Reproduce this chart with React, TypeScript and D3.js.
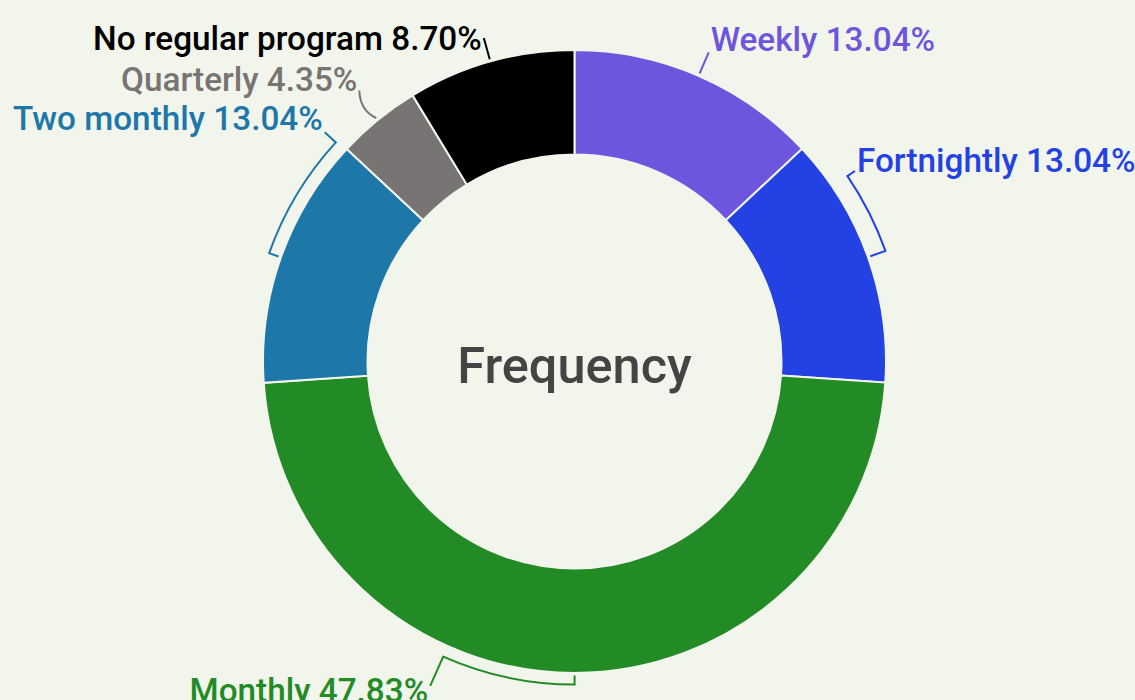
import * as d3 from "d3";
import { useEffect, useRef } from "react";

// Data
const categories = [
  "Weekly",
  "Fortnightly",
  "Monthly",
  "Two monthly",
  "Quarterly",
  "No regular program",
];
const shares = [13.04, 13.04, 47.83, 13.04, 4.35, 8.7];
const colors = ["#6e55dd", "#2442e4", "#228b26", "#1e77a9", "#787473", "#000000"];

// Label layout (degrees relative to slice middle, radii in px)
const bracketSpan = [0, -14.6, 24, 23, 0.7, 0];
const bracketRadius = [0, 330, 323, 324, 0, 0];
const leaderRadius = [337, 339, 355, 339, 346, 336];
const labelDy = [-1, 1, 16, -2, 0, 12];

export default function App() {
  const svgRef = useRef<SVGSVGElement | null>(null);

  useEffect(() => {
    if (!svgRef.current) return;
    const svg = d3.select(svgRef.current);
    svg.selectAll("*").remove();

    const width = 1135;
    const height = 700;
    const cx = 574.5;
    const cy = 361.5;
    const outer = 311.5;
    const inner = 207;
    const tickR = 314;
    const bg = "#f2f5ec";

    svg.attr("width", width).attr("height", height);
    svg.append("rect").attr("width", width).attr("height", height).attr("fill", bg);

    const pie = d3
      .pie<number>()
      .sort(null)
      .value((d) => d);
    const arcs = pie(shares);

    const arc = d3
      .arc<d3.PieArcDatum<number>>()
      .innerRadius(inner)
      .outerRadius(outer);

    const g = svg.append("g").attr("transform", `translate(${cx},${cy})`);

    g.selectAll("path.slice")
      .data(arcs)
      .join("path")
      .attr("class", "slice")
      .attr("d", arc)
      .attr("fill", (_, i) => colors[i])
      .attr("stroke", bg)
      .attr("stroke-width", 2);

    const pt = (r: number, a: number) => [r * Math.sin(a), -r * Math.cos(a)];
    const rad = (deg: number) => (deg * Math.PI) / 180;

    // Leaders and brackets
    arcs.forEach((d, i) => {
      const mid = (d.startAngle + d.endAngle) / 2;
      const end = mid + rad(bracketSpan[i]);
      let path = "";
      if (bracketRadius[i] > 0) {
        const rb = bracketRadius[i];
        const [x0, y0] = pt(tickR, mid);
        const [x1, y1] = pt(rb, mid);
        const [x2, y2] = pt(rb, end);
        const [x3, y3] = pt(leaderRadius[i], end);
        const sweep = bracketSpan[i] > 0 ? 1 : 0;
        path = `M${x0},${y0}L${x1},${y1}A${rb},${rb} 0 0 ${sweep} ${x2},${y2}L${x3},${y3}`;
      } else {
        const [x0, y0] = pt(tickR, mid);
        const [x3, y3] = pt(leaderRadius[i], end);
        // slight bend for the leader
        const [xc, yc] = pt((tickR + leaderRadius[i]) / 2, mid - rad(bracketSpan[i]) * 2);
        path = `M${x0},${y0}Q${xc},${yc} ${x3},${y3}`;
      }
      g.append("path")
        .attr("d", path)
        .attr("fill", "none")
        .attr("stroke", colors[i])
        .attr("stroke-width", 2);

      const [lx, ly] = pt(leaderRadius[i], end);
      const right = Math.sin(end) > 0;
      g.append("text")
        .attr("x", lx + (right ? 2 : -2))
        .attr("y", ly + labelDy[i])
        .attr("text-anchor", right ? "start" : "end")
        .attr("fill", colors[i])
        .style("font-family", "Roboto, sans-serif")
        .style("font-weight", "500")
        .style("font-size", "33.3px")
        .text(`${categories[i]} ${shares[i].toFixed(2)}%`);
    });

    // Center title
    g.append("text")
      .attr("x", 0)
      .attr("y", 21)
      .attr("text-anchor", "middle")
      .attr("fill", "#444444")
      .style("font-family", "Roboto, sans-serif")
      .style("font-weight", "500")
      .style("font-size", "50.5px")
      .text("Frequency");
  }, []);

  return (
    <svg
      ref={svgRef}
      style={{ position: "absolute", left: 0, top: 0, display: "block" }}
    ></svg>
  );
}
